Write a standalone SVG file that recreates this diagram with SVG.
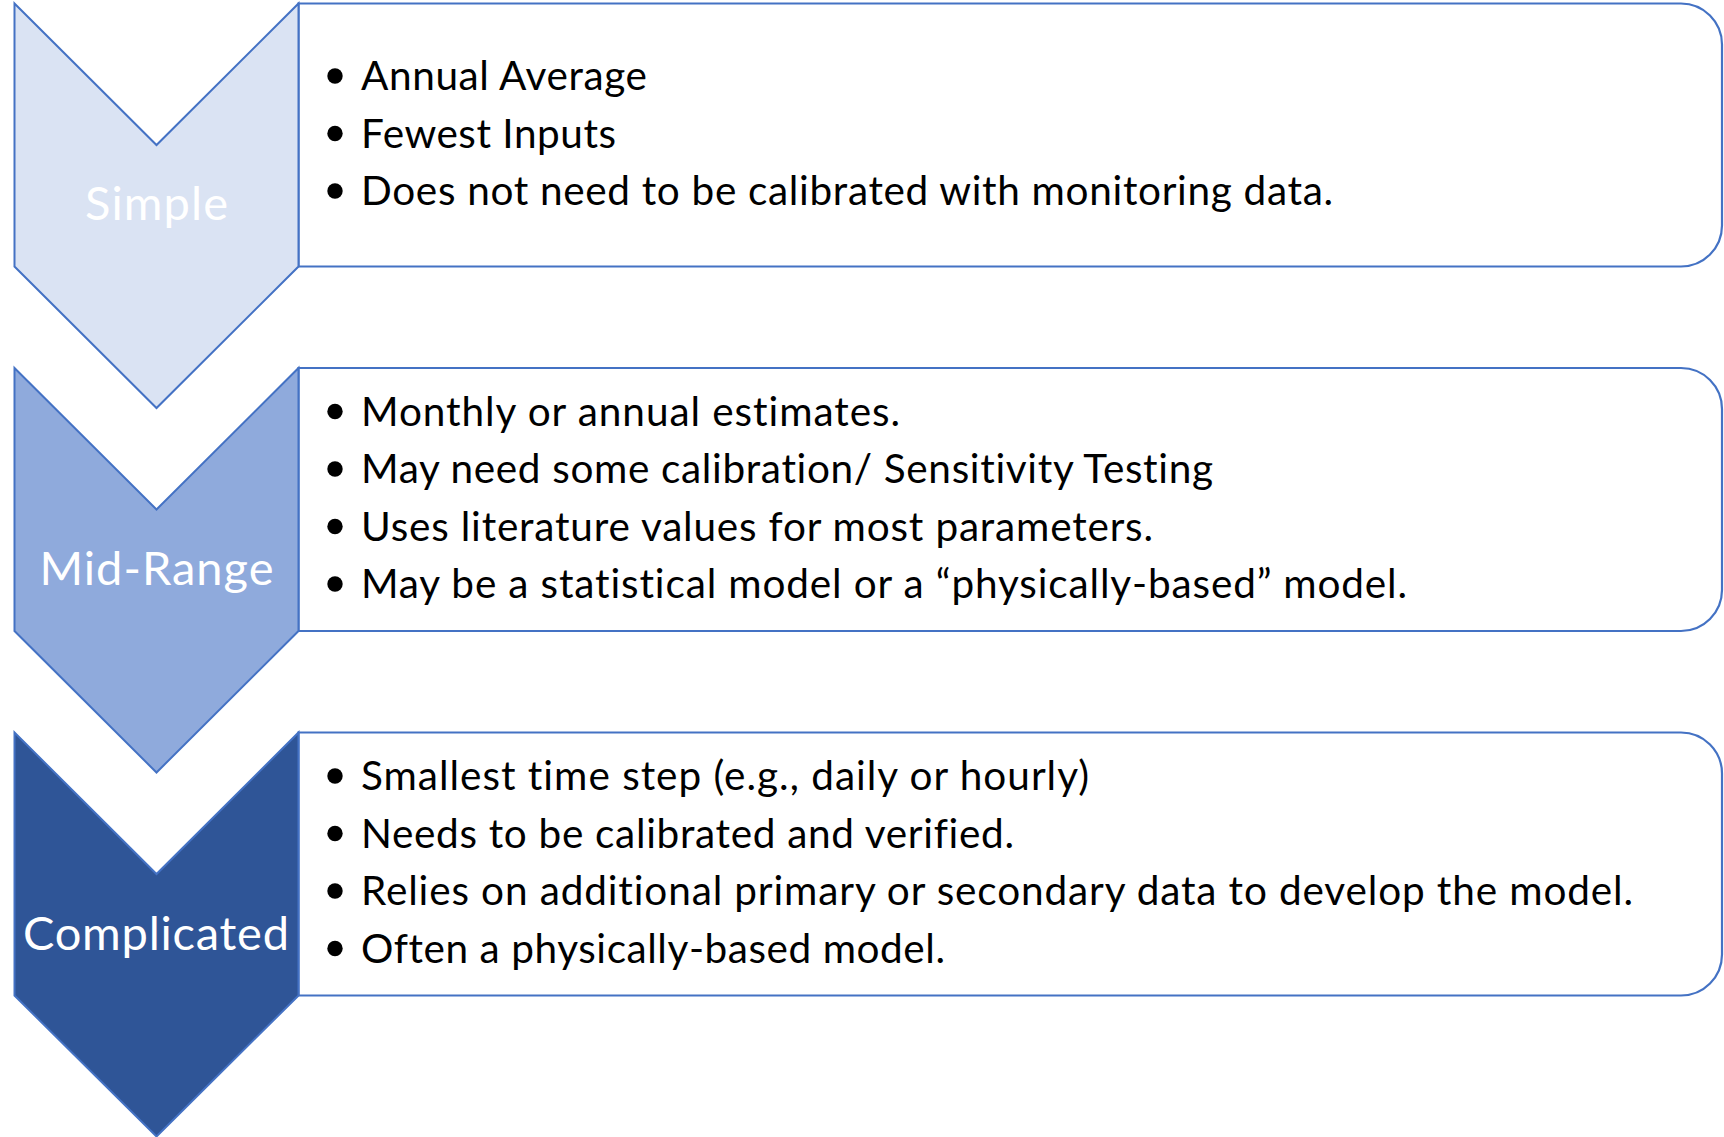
<svg xmlns="http://www.w3.org/2000/svg" width="1724" height="1137" viewBox="0 0 1724 1137">
  <style>
    .box { fill: #FFFFFF; stroke: #4472C4; stroke-width: 2.2; }
    .chev { stroke: #4472C4; stroke-width: 2; stroke-linejoin: miter; }
    .c1 { fill: #DAE3F3; }
    .c2 { fill: #8FAADC; }
    .c3 { fill: #2F5597; }
    .label { font-family: Lato, "Open Sans", "Liberation Sans", sans-serif; font-size: 47px; fill: #FFFFFF; text-anchor: middle; font-variant-ligatures: none; }
    .item { font-family: Lato, "Open Sans", "Liberation Sans", sans-serif; font-size: 40.5px; fill: #000000; font-variant-ligatures: none; }
    .dot { fill: #000000; }
  </style>
  <rect width="1724" height="1137" fill="#FFFFFF"/>

  <!-- Tier 1: Simple -->
  <g id="tier-simple">
    <path class="box" d="M298.5,3.5 H1681 A41,41 0 0 1 1722,44.5 V225.5 A41,41 0 0 1 1681,266.5 H298.5 Z"/>
    <path class="chev c1" d="M14.5,3.5 L156.5,145 L298.5,3.5 V266.5 L156.5,408 L14.5,266.5 Z"/>
    <text class="label" x="156.5" y="220" textLength="143">Simple</text>
    <circle class="dot" cx="335" cy="76" r="7.7"/>
    <circle class="dot" cx="335" cy="133.5" r="7.7"/>
    <circle class="dot" cx="335" cy="191" r="7.7"/>
    <text class="item" x="361" y="90" textLength="286">Annual Average</text>
    <text class="item" x="361" y="147.5" textLength="255">Fewest Inputs</text>
    <text class="item" x="361" y="205" textLength="972">Does not need to be calibrated with monitoring data.</text>
  </g>

  <!-- Tier 2: Mid-Range -->
  <g id="tier-mid-range">
    <path class="box" d="M298.5,368 H1681 A41,41 0 0 1 1722,409 V590 A41,41 0 0 1 1681,631 H298.5 Z"/>
    <path class="chev c2" d="M14.5,368 L156.5,509.5 L298.5,368 V631 L156.5,772.5 L14.5,631 Z"/>
    <text class="label" x="156.5" y="585" textLength="234">Mid-Range</text>
    <circle class="dot" cx="335" cy="411.5" r="7.7"/>
    <circle class="dot" cx="335" cy="469" r="7.7"/>
    <circle class="dot" cx="335" cy="526.5" r="7.7"/>
    <circle class="dot" cx="335" cy="584" r="7.7"/>
    <text class="item" x="361" y="425.5" textLength="539">Monthly or annual estimates.</text>
    <text class="item" x="361" y="483" textLength="852">May need some calibration/ Sensitivity Testing</text>
    <text class="item" x="361" y="540.5" textLength="792">Uses literature values for most parameters.</text>
    <text class="item" x="361" y="598" textLength="1046">May be a statistical model or a “physically-based” model.</text>
  </g>

  <!-- Tier 3: Complicated -->
  <g id="tier-complicated">
    <path class="box" d="M298.5,732.5 H1681 A41,41 0 0 1 1722,773.5 V954.5 A41,41 0 0 1 1681,995.5 H298.5 Z"/>
    <path class="chev c3" d="M14.5,732.5 L156.5,874 L298.5,732.5 V995.5 L156.5,1136.5 L14.5,995.5 Z"/>
    <text class="label" x="156" y="950" textLength="266">Complicated</text>
    <circle class="dot" cx="335" cy="776" r="7.7"/>
    <circle class="dot" cx="335" cy="833.5" r="7.7"/>
    <circle class="dot" cx="335" cy="891" r="7.7"/>
    <circle class="dot" cx="335" cy="948.5" r="7.7"/>
    <text class="item" x="361" y="790" textLength="728">Smallest time step (e.g., daily or hourly)</text>
    <text class="item" x="361" y="847.5" textLength="653">Needs to be calibrated and verified.</text>
    <text class="item" x="361" y="905" textLength="1272">Relies on additional primary or secondary data to develop the model.</text>
    <text class="item" x="361" y="962.5" textLength="584">Often a physically-based model.</text>
  </g>

  <!-- the tiers are stacked directly; no separate connectors are drawn -->
  <g id="connectors"/>
</svg>
